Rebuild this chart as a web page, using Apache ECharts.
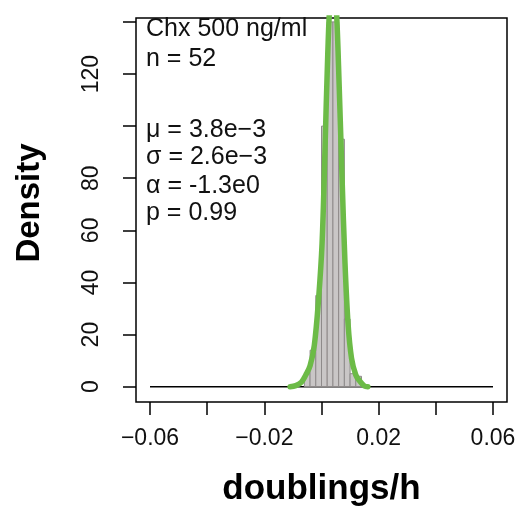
<!DOCTYPE html>
<html>
<head>
<meta charset="utf-8">
<script src="https://cdn.jsdelivr.net/npm/echarts@6/dist/echarts.min.js"></script>
<style>
html,body{margin:0;padding:0;background:#fff;}
#chart{width:515px;height:512px;}
</style>
</head>
<body>
<div id="chart"></div>
<script>
// Histogram bins (start of bin) and densities
const binStarts = [-0.006, -0.004, -0.002, 0.000, 0.002, 0.004, 0.006, 0.008, 0.010, 0.012];
const binWidth = 0.002;
const binDensity = [5, 14, 35, 100, 140, 140, 95, 26, 5, 4];

// Fitted curve (green)
const curveX = [-0.0110, -0.0090, -0.0070, -0.0055, -0.0040, -0.0025, -0.0010, 0.0002, 0.0012, 0.0022, 0.0032, 0.0042, 0.0052, 0.0062, 0.0072, 0.0082, 0.0093, 0.0105, 0.0120, 0.0135, 0.0150, 0.0162];
const curveY = [0.0, 0.4, 1.8, 4.5, 8, 16, 34, 55, 90, 128, 152, 157, 145, 115, 80, 48, 24, 11, 4.5, 2.0, 0.3, 0.0];

// Baseline line
const baseX = [-0.06, 0.06];
const baseY = [0, 0];

// Ticks and labels
const xTicks = [-0.06, -0.04, -0.02, 0, 0.02, 0.04, 0.06];
const xLabels = [-0.06, -0.02, 0.02, 0.06];
const yTicks = [0, 20, 40, 60, 80, 100, 120, 140];
const yLabels = [0, 20, 40, 60, 80, 120];

const legendLines = ['Chx 500 ng/ml', 'n = 52', 'μ = 3.8e\u22123', 'σ = 2.6e\u22123', 'α = -1.3e0', 'p = 0.99'];
const legendTops = [17, 47, 118, 145, 174, 201];

const FONT = '"Liberation Sans", Arial, Helvetica, sans-serif';

const chart = echarts.init(document.getElementById('chart'), null, {renderer: 'canvas'});

const histData = binStarts.map((s, i) => [s, s + binWidth, binDensity[i]]);
const curveData = curveX.map((x, i) => [x, curveY[i]]);
const baseData = baseX.map((x, i) => [x, baseY[i]]);

function fmt(v) {
  const s = Math.abs(v).toFixed(2);
  return (v < 0 ? '\u2212' : '') + s;
}

const option = {
  animation: false,
  backgroundColor: '#fff',
  grid: {left: 136, right: 8, top: 18, bottom: 110, show: true, borderColor: '#000', borderWidth: 1.5, backgroundColor: 'transparent', containLabel: false, outerBoundsMode: 'none'},
  xAxis: {
    type: 'value', min: -0.0649, max: 0.0649,
    axisLine: {show: false, onZero: false},
    splitLine: {show: false},
    axisTick: {show: true, length: 13, inside: false, customValues: xTicks, lineStyle: {color: '#000', width: 1.5}},
    axisLabel: {show: true, customValues: xLabels, formatter: fmt, fontFamily: FONT, fontSize: 23, color: '#111', margin: 25, hideOverlap: false}
  },
  yAxis: {
    type: 'value', min: -5.87, max: 141.5,
    axisLine: {show: false, onZero: false},
    splitLine: {show: false},
    axisTick: {show: true, length: 13, inside: false, customValues: yTicks, lineStyle: {color: '#000', width: 1.5}},
    axisLabel: {show: true, customValues: yLabels, rotate: 90, fontFamily: FONT, fontSize: 23, color: '#111', margin: 33}
  },
  graphic: [
    {type: 'text', x: 30, y: 203, rotation: Math.PI / 2, style: {text: 'Density', font: 'bold 33px ' + FONT, fill: '#000', align: 'center', verticalAlign: 'middle'}},
    {type: 'text', x: 321.5, y: 489, style: {text: 'doublings/h', font: 'bold 35px ' + FONT, fill: '#000', align: 'center', verticalAlign: 'middle'}}
  ].concat(legendLines.map((t, i) => ({
    type: 'text', x: 146, y: legendTops[i], z: 100,
    style: {text: t, font: '25px ' + FONT, fill: '#111', align: 'left', verticalAlign: 'top'}
  }))),
  series: [
    {
      type: 'line', data: baseData, showSymbol: false, symbol: 'none',
      lineStyle: {color: '#000', width: 1.6}, z: 1
    },
    {
      type: 'custom', z: 2,
      renderItem: function (params, api) {
        const p0 = api.coord([api.value(0), api.value(2)]);
        const p1 = api.coord([api.value(1), 0]);
        return {
          type: 'rect',
          shape: {x: p0[0], y: p0[1], width: p1[0] - p0[0], height: p1[1] - p0[1]},
          style: {fill: '#c9c6c6', stroke: '#8e8a8a', lineWidth: 1}
        };
      },
      encode: {x: [0, 1], y: 2},
      data: histData
    },
    {
      type: 'line', data: curveData, showSymbol: false, symbol: 'none', smooth: 0.35, clip: true,
      lineStyle: {color: '#6cbb47', width: 5.5, cap: 'round', join: 'round'}, z: 3
    }
  ]
};
chart.setOption(option);
</script>
</body>
</html>
